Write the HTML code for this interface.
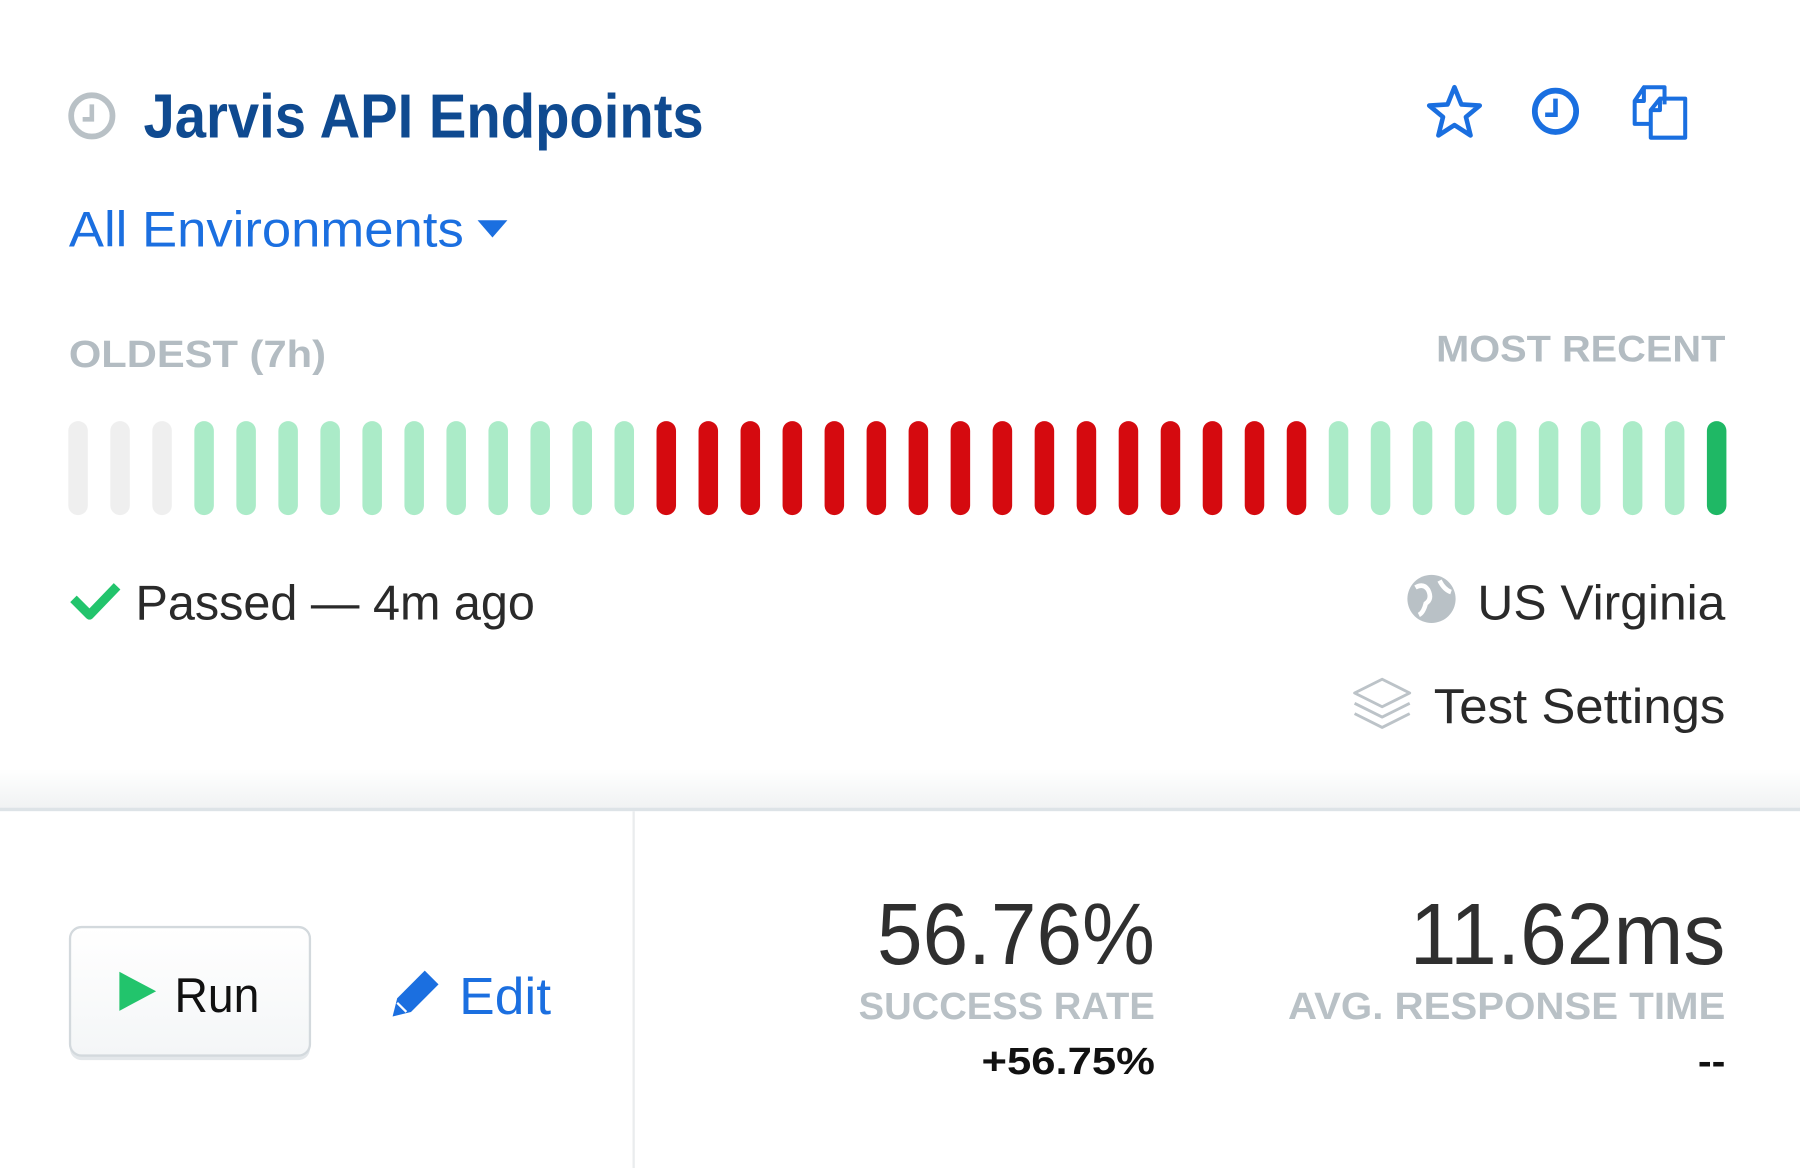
<!DOCTYPE html>
<html><head><meta charset="utf-8"><style>
html,body{margin:0;padding:0;background:#fff;width:1800px;height:1168px;overflow:hidden}
svg{display:block}
text{font-family:"Liberation Sans",sans-serif}
</style></head><body>
<svg width="1800" height="1168" viewBox="0 0 1568 1018" preserveAspectRatio="none" xmlns="http://www.w3.org/2000/svg">
<defs>
<linearGradient id="sh" x1="0" y1="0" x2="0" y2="1"><stop offset="0" stop-color="#fff"/><stop offset="1" stop-color="#f0f2f3"/></linearGradient>
<linearGradient id="btn" x1="0" y1="0" x2="0" y2="1"><stop offset="0" stop-color="#fff"/><stop offset="1" stop-color="#f4f6f7"/></linearGradient>
</defs>
<rect width="1568" height="1018" fill="#fff"/>
<!-- title -->
<circle cx="80" cy="101" r="18" fill="none" stroke="#b9c1c6" stroke-width="5"/>
<path d="M80 91 V104 H72" fill="none" stroke="#b9c1c6" stroke-width="4"/>
<text x="125" y="120" font-size="54" font-weight="bold" fill="#0f4a90" textLength="488" lengthAdjust="spacingAndGlyphs">Jarvis API Endpoints</text>
<!-- right icons -->
<path d="M1267 76 L1273 91 L1289 92 L1277 102 L1281 118 L1267 109 L1253 118 L1257 102 L1245 92 L1261 91 Z" fill="none" stroke="#1a6fe0" stroke-width="4" stroke-linejoin="round"/>
<circle cx="1355" cy="97" r="18" fill="none" stroke="#1a6fe0" stroke-width="5"/>
<path d="M1355 86 V100 H1346" fill="none" stroke="#1a6fe0" stroke-width="4"/>
<path d="M1432 76 H1450 V91 M1438 108 H1424 V88 L1432 76 V88 H1424" fill="none" stroke="#1a6fe0" stroke-width="3.5" stroke-linejoin="round"/>
<path d="M1446 86 H1468 V120 H1438 V96 L1446 86 V96 H1438" fill="none" stroke="#1a6fe0" stroke-width="3.5" stroke-linejoin="round"/>
<!-- env -->
<text x="60" y="215" font-size="44" fill="#1b6fe0" textLength="344" lengthAdjust="spacingAndGlyphs">All Environments</text>
<path d="M416 192 H442 L429 207 Z" fill="#1b6fe0"/>
<!-- labels -->
<text x="60" y="320" font-size="33" font-weight="bold" fill="#b3bcc2" textLength="224" lengthAdjust="spacingAndGlyphs">OLDEST (7h)</text>
<text x="1251" y="315" font-size="32" font-weight="bold" fill="#b3bcc2" textLength="252" lengthAdjust="spacingAndGlyphs">MOST RECENT</text>
<!-- bars -->
<g id="bars"></g>
<!-- status -->
<path d="M64 522 L78 536 L102 511" fill="none" stroke="#22c46c" stroke-width="8" stroke-linejoin="round"/>
<text x="118" y="540" font-size="43" fill="#2a2a2a" textLength="348" lengthAdjust="spacingAndGlyphs">Passed — 4m ago</text>
<circle cx="1247" cy="522" r="21" fill="#b9c1c6"/>
<path d="M1233 512 Q1240 508 1244 514 Q1248 522 1242 526 Q1240 534 1236 536 M1254 506 Q1258 514 1264 516" fill="none" stroke="#fff" stroke-width="4"/>
<text x="1287" y="540" font-size="43" fill="#2a2a2a" textLength="216" lengthAdjust="spacingAndGlyphs">US Virginia</text>
<path d="M1180 604 L1204 592 L1228 604 L1204 616 Z" fill="none" stroke="#bcc3c8" stroke-width="2.5" stroke-linejoin="round"/>
<path d="M1180 613 L1204 625 L1228 613 M1180 622 L1204 634 L1228 622" fill="none" stroke="#bcc3c8" stroke-width="2.5" stroke-linejoin="round"/>
<text x="1249" y="630" font-size="43" fill="#2a2a2a" textLength="254" lengthAdjust="spacingAndGlyphs">Test Settings</text>
<!-- divider -->
<rect x="0" y="670" width="1568" height="35" fill="url(#sh)"/>
<rect x="0" y="704" width="1568" height="3" fill="#dde3e7"/>
<rect x="551" y="707" width="2" height="311" fill="#eaecee"/>
<!-- run button -->
<rect x="61" y="810" width="209" height="114" rx="10" fill="#e3e7ea"/>
<rect x="61" y="808" width="209" height="112" rx="10" fill="url(#btn)" stroke="#d3d9dd" stroke-width="2"/>
<path d="M104 847 L136 864 L104 881 Z" fill="#22c46c"/>
<text x="152" y="882" font-size="43" fill="#111" textLength="74" lengthAdjust="spacingAndGlyphs">Run</text>
<path d="M346 870 L370 846 L382 858 L358 882 L342 886 Z" fill="#1b6fe0"/>
<path d="M346 874 L354 882" stroke="#fff" stroke-width="2"/>
<text x="400" y="884" font-size="45" fill="#1b6fe0" textLength="80" lengthAdjust="spacingAndGlyphs">Edit</text>
<!-- stats -->
<text x="764" y="840" font-size="76" fill="#2f2f2f" textLength="242" lengthAdjust="spacingAndGlyphs">56.76%</text>
<text x="748" y="888" font-size="33" font-weight="bold" fill="#b9c1c6" textLength="258" lengthAdjust="spacingAndGlyphs">SUCCESS RATE</text>
<text x="855" y="936" font-size="33" font-weight="bold" fill="#111" textLength="151" lengthAdjust="spacingAndGlyphs">+56.75%</text>
<text x="1228" y="840" font-size="76" fill="#2f2f2f" textLength="275" lengthAdjust="spacingAndGlyphs">11.62ms</text>
<text x="1122" y="888" font-size="33" font-weight="bold" fill="#b9c1c6" textLength="381" lengthAdjust="spacingAndGlyphs">AVG. RESPONSE TIME</text>
<text x="1479" y="936" font-size="33" font-weight="bold" fill="#111" textLength="24" lengthAdjust="spacingAndGlyphs">--</text>
</svg>
<script>
var g=document.getElementById('bars'),s='';
for(var i=0;i<40;i++){var c=i<3?'#efefef':i<14?'#abebc8':i<30?'#d50a0f':i<39?'#abebc8':'#1fb865';
var x=68+i*36.6-8.5;s+='<rect x="'+x.toFixed(1)+'" y="367" width="17" height="82" rx="8.5" fill="'+c+'"/>';}
g.innerHTML=s;
</script>
</body></html>
